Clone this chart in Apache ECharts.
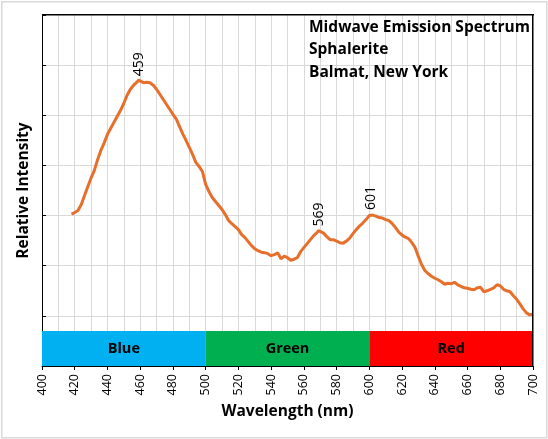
<!DOCTYPE html>
<html lang="en">
<head>
    <meta charset="UTF-8">
    <title>Midwave Emission Spectrum</title>
    <script src="https://cdn.jsdelivr.net/npm/echarts@6/dist/echarts.min.js"></script>
    <style>
        html,body{margin:0;padding:0;background:#fff;}
        #chart{width:548px;height:439px;}
    </style>
</head>
<body>
    <div id="chart"></div>
    <script>
        let titleLines=['Midwave Emission Spectrum','Sphalerite','Balmat, New York'];
        let wavelengths=[
            418,420,422,424,426,428,430,432,434,436,438,440,442,444,446,448,450,452,454,456,458,459,460,462,464,466,468,470,
            472,474,476,478,480,482,484,486,488,490,492,494,496,498,500,502,504,506,508,510,512,514,516,518,520,522,524,526,
            528,530,532,534,536,538,540,542,544,546,548,550,552,554,556,558,560,562,564,566,568,569,570,572,574,576,578,580,
            582,584,586,588,590,592,594,596,598,600,601,602,604,606,608,610,612,614,616,618,620,622,624,626,628,630,632,634,
            636,638,640,642,644,646,648,650,652,654,656,658,660,662,664,666,668,670,672,674,676,678,680,682,684,686,688,690,
            692,694,696,698,700
        ];
        let intensity=[
            3.03,3.06,3.10,3.22,3.40,3.58,3.75,3.90,4.12,4.30,4.45,4.62,4.74,4.86,4.98,5.10,5.24,5.40,5.52,5.60,5.66,5.70,5.69,5.65,5.66,5.65,5.60,5.52,
            5.42,5.32,5.22,5.12,5.02,4.93,4.78,4.63,4.50,4.36,4.22,4.06,3.98,3.88,3.62,3.48,3.36,3.28,3.20,3.12,3.02,2.90,2.84,2.78,2.72,2.62,2.56,2.48,
            2.40,2.34,2.30,2.27,2.26,2.24,2.20,2.22,2.26,2.14,2.19,2.16,2.11,2.13,2.16,2.28,2.36,2.44,2.52,2.60,2.66,2.70,2.68,2.65,2.58,2.52,2.52,2.49,
            2.46,2.45,2.49,2.55,2.64,2.72,2.79,2.85,2.92,3.00,3.03,3.01,2.99,2.96,2.95,2.92,2.90,2.84,2.76,2.67,2.61,2.57,2.54,2.46,2.36,2.18,2.02,1.90,
            1.84,1.79,1.75,1.72,1.68,1.63,1.65,1.64,1.67,1.62,1.59,1.56,1.55,1.53,1.52,1.56,1.57,1.48,1.50,1.53,1.56,1.62,1.60,1.53,1.50,1.48,1.40,1.33,
            1.24,1.14,1.06,1.02,1.03
        ];
        let peaks=[459,569,601];
        let bandNames=['Blue','Green','Red'];
        let bandStarts=[400,500,600];
        let bandEnds=[500,600,700];
        let bandColors=['#00B0F0','#00B050','#FF0000'];
        let bandTop=0.7;
        let xMin=400,xMax=700,yMin=0,yMax=7;

        // plot box layout
        let chartW=548,chartH=439;
        let gridLeft=42,gridRight=15,gridTop=15,gridBottom=73;

        let fontName='Open Sans';
        let myChart=echarts.init(document.getElementById('chart'));

        let lineData=wavelengths.map((w,i)=>{
            let item={value:[w,intensity[i]]};
            if(peaks.indexOf(w)>=0){
                item.label={
                    show:true,
                    formatter:String(w),
                    position:'top',
                    distance:4,
                    rotate:90,
                    align:'left',
                    verticalAlign:'middle',
                    fontFamily:fontName,
                    fontSize:14,
                    color:'#000',
                };
            }
            return item;
        });

        let bandAreas=bandNames.map((name,i)=>{
            return [
                {
                    name,
                    xAxis:bandStarts[i],
                    yAxis:0,
                    itemStyle:{color:bandColors[i],opacity:1},
                },
                {xAxis:bandEnds[i],yAxis:bandTop},
            ];
        });

        let plotW=chartW-gridLeft-gridRight;
        let plotH=chartH-gridTop-gridBottom;

        let option={
            animation:false,
            textStyle:{fontFamily:fontName},
            title:{
                text:titleLines.join('\n'),
                left:309,
                top:16,
                padding:0,
                textStyle:{
                    fontFamily:fontName,
                    fontSize:15.5,
                    fontWeight:'bold',
                    color:'#000',
                    lineHeight:22.5,
                },
            },
            // outer border plus the top and right edges of the plot frame
            graphic:[
                {
                    type:'rect',
                    left:1,
                    top:1,
                    shape:{x:0,y:0,width:545,height:436},
                    style:{fill:'rgba(0,0,0,0)',stroke:'#d9d9d9',lineWidth:1.5},
                    silent:true,
                    z:100,
                },
                {
                    type:'rect',
                    left:gridLeft,
                    top:gridTop-1,
                    shape:{x:0,y:0,width:plotW+1,height:1.5},
                    style:{fill:'#000',stroke:null},
                    silent:true,
                    z:100,
                },
                {
                    type:'rect',
                    left:gridLeft+plotW-1,
                    top:gridTop-1,
                    shape:{x:0,y:0,width:1.5,height:plotH+1},
                    style:{fill:'#000',stroke:null},
                    silent:true,
                    z:100,
                },
            ],
            grid:{
                left:gridLeft,
                right:gridRight,
                top:gridTop,
                bottom:gridBottom,
            },
            xAxis:{
                type:'value',
                min:xMin,
                max:xMax,
                interval:20,
                name:'Wavelength (nm)',
                nameLocation:'middle',
                nameGap:35,
                nameTextStyle:{fontFamily:fontName,fontSize:15.5,fontWeight:'bold',color:'#000'},
                axisLine:{onZero:false,lineStyle:{color:'#000',width:1}},
                axisTick:{show:true,length:4,lineStyle:{color:'#000'}},
                axisLabel:{
                    rotate:90,
                    margin:8,
                    fontFamily:fontName,
                    fontSize:12.5,
                    color:'#000',
                },
                splitLine:{show:true,showMinLine:false,showMaxLine:false,lineStyle:{color:'#d9d9d9',width:1}},
                minorTick:{show:false,splitNumber:2},
                minorSplitLine:{show:true,lineStyle:{color:'#d9d9d9',width:1}},
            },
            yAxis:{
                type:'value',
                min:yMin,
                max:yMax,
                interval:1,
                name:'Relative Intensity',
                nameLocation:'middle',
                nameGap:10,
                nameTextStyle:{fontFamily:fontName,fontSize:15.5,fontWeight:'bold',color:'#000'},
                axisLine:{show:true,onZero:false,lineStyle:{color:'#000',width:1}},
                axisTick:{show:true,inside:true,length:4,lineStyle:{color:'#000'}},
                axisLabel:{show:false},
                splitLine:{show:true,showMinLine:false,showMaxLine:false,lineStyle:{color:'#d9d9d9',width:1}},
            },
            series:[
                {
                    name:'Emission',
                    type:'line',
                    data:lineData,
                    showSymbol:true,
                    showAllSymbol:true,
                    symbol:'circle',
                    symbolSize:0.1,
                    itemStyle:{color:'#E66F2C'},
                    smooth:false,
                    lineStyle:{color:'#E66F2C',width:3},
                    z:3,
                    markArea:{
                        silent:true,
                        label:{
                            show:true,
                            position:'inside',
                            fontFamily:fontName,
                            fontSize:14.5,
                            fontWeight:'bold',
                            color:'#000',
                        },
                        data:bandAreas,
                    },
                },
            ],
        };
        myChart.setOption(option);
    </script>
</body>
</html>
